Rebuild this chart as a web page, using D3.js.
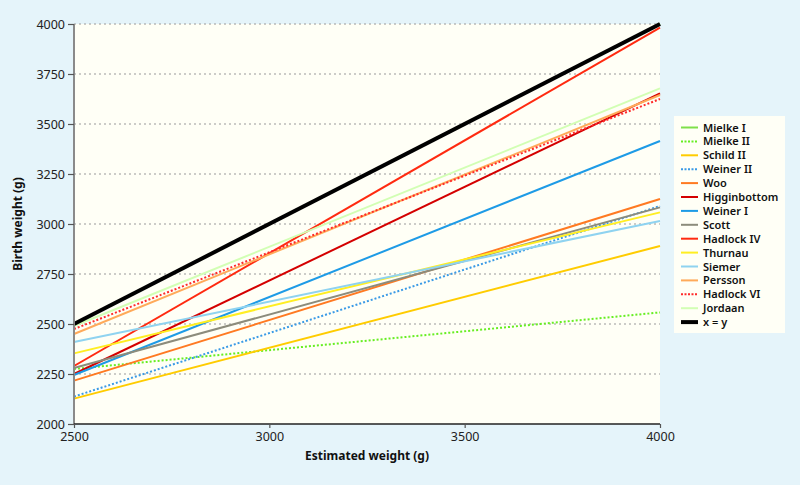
<!DOCTYPE html>
<html><head><meta charset="utf-8">
<script src="https://cdn.jsdelivr.net/npm/d3@7"></script>
<style>
html,body{margin:0;padding:0;background:#e5f4fa;}
svg{display:block;font-family:"Noto Sans",sans-serif;}
</style></head>
<body><svg id="c" width="800" height="485"></svg>
<script>
const seriesNames = ["Mielke I","Mielke II","Schild II","Weiner II","Woo","Higginbottom","Weiner I","Scott","Hadlock IV","Thurnau","Siemer","Persson","Hadlock VI","Jordaan","x = y"];
const startValues = [2500, 2275, 2127, 2137, 2217, 2250, 2245, 2280, 2290, 2353, 2410, 2450, 2475, 2490, 2500];
const endValues   = [4000, 2558, 2890, 3090, 3125, 3653, 3415, 3083, 3982, 3058, 3015, 3645, 3625, 3678, 4000];
const seriesColors = ["#7ee04a","#66ee22","#ffcc00","#3a9ae6","#ff7a22","#d40000","#1e9be6","#8c8c7c","#ff2a10","#ffee22","#8fd3f0","#ffaa5a","#ff2a2a","#d2ffb4","#000000"];
const seriesDotted = [false,true,false,true,false,false,false,false,false,false,false,false,true,false,false];
const xDomain = [2500, 4000];
const yDomain = [2000, 4000];
const xTicks = [2500, 3000, 3500, 4000];
const yTicks = [2000, 2250, 2500, 2750, 3000, 3250, 3500, 3750, 4000];

const svg = d3.select("#c");
const L = 74, R = 660, T = 24, B = 424;
const x = d3.scaleLinear().domain(xDomain).range([L, R]);
const y = d3.scaleLinear().domain(yDomain).range([B, T]);

svg.append("rect").attr("x",0).attr("y",0).attr("width",800).attr("height",485).attr("fill","#e5f4fa");
svg.append("rect").attr("x",L).attr("y",T).attr("width",R-L).attr("height",B-T).attr("fill","#fffff6");

// gridlines
svg.append("g").selectAll("line").data(yTicks.filter(d=>d>yDomain[0])).join("line")
  .attr("x1",L).attr("x2",R).attr("y1",d=>y(d)).attr("y2",d=>y(d))
  .attr("stroke","#9a9a9a").attr("stroke-width",1.2).attr("stroke-dasharray","2,3");

// series
const data = seriesNames.map((n,i)=>({name:n, pts:[[xDomain[0],startValues[i]],[xDomain[1],endValues[i]]], color:seriesColors[i], dotted:seriesDotted[i], black:i===seriesNames.length-1}));
const line = d3.line().x(d=>x(d[0])).y(d=>y(d[1]));
svg.append("g").selectAll("path").data(data).join("path")
  .attr("d",d=>line(d.pts)).attr("fill","none")
  .attr("stroke",d=>d.color).attr("stroke-width",d=>d.black?4:2)
  .attr("stroke-dasharray",d=>d.dotted?"2,2":null);

// y axis
const yAxis = svg.append("g").attr("transform",`translate(${L},0)`)
  .call(d3.axisLeft(y).tickValues(yTicks).tickSize(6).tickPadding(3).tickFormat(d3.format("d")));
yAxis.select(".domain").attr("stroke","#8a8a8a").attr("stroke-width",2).attr("d",`M0,${T}V${B}`);
yAxis.selectAll(".tick line").attr("stroke","#555").attr("stroke-width",1.2);
yAxis.selectAll("text").attr("font-size",12.5).attr("fill","#222").attr("font-family","Noto Sans");

// x axis
const xAxis = svg.append("g").attr("transform",`translate(0,${B})`)
  .call(d3.axisBottom(x).tickValues(xTicks).tickSize(4).tickPadding(4).tickFormat(d3.format("d")));
xAxis.select(".domain").attr("stroke","#222").attr("stroke-width",1.3).attr("d",`M${L},0H${R}`);
xAxis.selectAll(".tick line").attr("stroke","#555").attr("stroke-width",1.2);
xAxis.selectAll("text").attr("font-size",12.5).attr("fill","#222").attr("font-family","Noto Sans");

// axis titles
svg.append("text").attr("x",(L+R)/2).attr("y",460).attr("text-anchor","middle")
  .attr("font-size",12).attr("font-weight","bold").attr("fill","#111").text("Estimated weight (g)");
svg.append("text").attr("transform","translate(22,224) rotate(-90)").attr("text-anchor","middle")
  .attr("font-size",12).attr("font-weight","bold").attr("fill","#111").text("Birth weight (g)");

// legend
const lg = svg.append("g");
lg.append("rect").attr("x",674).attr("y",116).attr("width",111).attr("height",217).attr("fill","#fffff6");
const items = lg.selectAll("g.it").data(data).join("g").attr("class","it")
  .attr("transform",(d,i)=>`translate(0,${127.5 + i*13.9})`);
items.append("line").attr("x1",681).attr("x2",698).attr("y1",0).attr("y2",0)
  .attr("stroke",d=>d.color).attr("stroke-width",d=>d.black?4:2)
  .attr("stroke-dasharray",d=>d.dotted?"2,1.5":null);
items.append("text").attr("x",703).attr("y",4).attr("font-size",11).attr("font-weight",600)
  .attr("fill","#111").text(d=>d.name);
</script></body></html>
